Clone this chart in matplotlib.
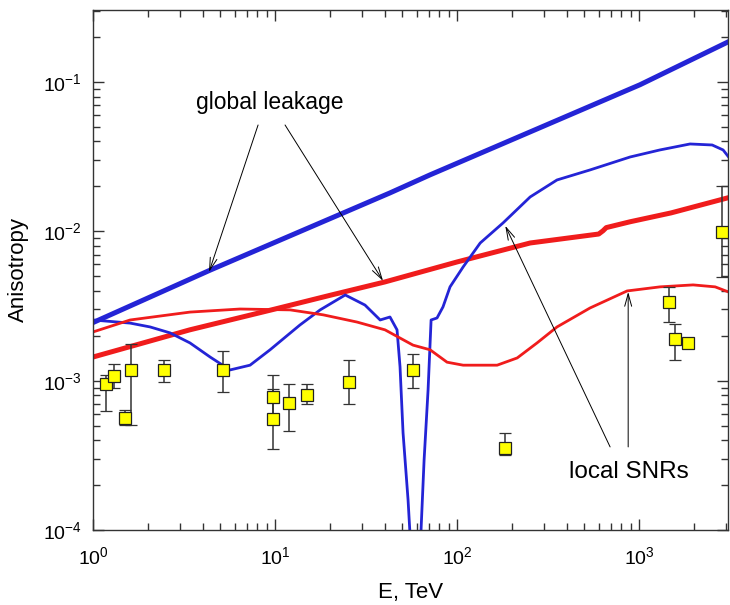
import matplotlib
matplotlib.use("Agg")
import matplotlib.pyplot as plt
from matplotlib.ticker import LogLocator, NullFormatter

plt.rcParams['font.family'] = ['Liberation Sans', 'DejaVu Sans']
plt.rcParams['mathtext.fontset'] = 'custom'
plt.rcParams['mathtext.rm'] = 'Liberation Sans'
plt.rcParams['mathtext.default'] = 'regular'
plt.rcParams['axes.unicode_minus'] = False

# global leakage, blue (thick)
glob_blue_E = [1, 4.4, 42.8, 71, 300, 1012, 3200]
glob_blue_A = [2.45e-3, 5.5e-3, 1.81e-2, 2.39e-2, 5.08e-2, 9.6e-2, 0.19]

# global leakage, red (thick)
glob_red_E = [1, 3.4, 10, 20.4, 40, 100, 252, 600, 634, 660, 893, 1500, 3200]
glob_red_A = [1.44e-3, 2.19e-3, 3.02e-3, 3.75e-3, 4.58e-3, 6.24e-3, 8.36e-3,
              9.6e-3, 1.01e-2, 1.06e-2, 1.16e-2, 1.33e-2, 1.7e-2]

# local SNRs, blue (thin)
snr_blue_E = [1, 1.6, 2.06, 2.65, 3.41, 4.4, 5.66, 7.29, 9.39, 11.4, 13.7, 17.7,
              24.3, 31.2, 37.8, 42.8, 46.8, 48.6, 50.5, 53.8, 55.9, 62.6, 65.9,
              69.3, 72, 77.6, 83.7, 91.5, 108, 134, 179, 252, 354, 538, 893,
              1300, 1905, 2520, 2895, 3200]
snr_blue_A = [2.55e-3, 2.43e-3, 2.29e-3, 2.09e-3, 1.79e-3, 1.44e-3, 1.18e-3,
              1.27e-3, 1.61e-3, 1.96e-3, 2.36e-3, 2.98e-3, 3.75e-3, 3.21e-3,
              2.55e-3, 2.67e-3, 2.19e-3, 1.24e-3, 4.47e-4, 1.59e-4, 7e-5, 7e-5,
              2.94e-4, 8.67e-4, 2.55e-3, 2.63e-3, 3.12e-3, 4.25e-3, 5.78e-3,
              8.36e-3, 1.14e-2, 1.7e-2, 2.21e-2, 2.58e-2, 3.15e-2, 3.51e-2,
              3.85e-2, 3.79e-2, 3.51e-2, 3.0e-2]

# local SNRs, red (thin)
snr_red_E = [1, 1.6, 3.41, 6.42, 12.1, 18.4, 28.2, 40.2, 57.3, 71.1, 88.1, 108,
             166, 214, 275, 354, 538, 859, 1303, 1981, 2617, 3200]
snr_red_A = [2.12e-3, 2.55e-3, 2.88e-3, 3.02e-3, 2.98e-3, 2.76e-3, 2.47e-3,
             2.19e-3, 1.73e-3, 1.61e-3, 1.33e-3, 1.27e-3, 1.27e-3, 1.42e-3,
             1.79e-3, 2.29e-3, 3.07e-3, 3.99e-3, 4.25e-3, 4.38e-3, 4.25e-3, 3.87e-3]

# measurements
data_E = [1.18, 1.30, 1.50, 1.62, 2.46, 5.18, 9.75, 9.75, 11.9, 15.0, 25.5,
          57.3, 184, 1462, 1578, 1858, 2858]
data_A = [9.51e-4, 1.075e-3, 5.62e-4, 1.18e-3, 1.18e-3, 1.18e-3, 7.78e-4,
          5.54e-4, 7.09e-4, 8.02e-4, 9.80e-4, 1.18e-3, 3.54e-4, 3.37e-3,
          1.90e-3, 1.79e-3, 9.91e-3]
data_hi = [1.09e-3, 1.29e-3, 6.36e-4, 1.76e-3, 1.38e-3, 1.58e-3, 1.09e-3,
           8.80e-4, 9.51e-4, 9.51e-4, 1.38e-3, 1.51e-3, 4.46e-4, 4.24e-3,
           2.40e-3, 1.79e-3, 2.01e-2]
data_lo = [6.27e-4, 8.94e-4, 5.05e-4, 5.05e-4, 9.80e-4, 8.41e-4, 5.54e-4,
           3.49e-4, 4.60e-4, 6.98e-4, 6.98e-4, 8.94e-4, 3.18e-4, 2.47e-3,
           1.38e-3, 1.79e-3, 4.95e-3]

blue = '#2424d6'
red = '#f01c1c'

fig = plt.figure(figsize=(7.3, 6.05), dpi=100)
ax = fig.add_axes([0.1274, 0.124, 0.870, 0.8595])

ax.plot(glob_blue_E, glob_blue_A, color=blue, lw=3.6, solid_capstyle='butt')
ax.plot(glob_red_E, glob_red_A, color=red, lw=3.6, solid_capstyle='butt')
ax.plot(snr_blue_E, snr_blue_A, color=blue, lw=2.0)
ax.plot(snr_red_E, snr_red_A, color=red, lw=2.0)

yerr = [[a - l for a, l in zip(data_A, data_lo)],
        [h - a for a, h in zip(data_A, data_hi)]]
ax.errorbar(data_E, data_A, yerr=yerr, fmt='s', color='#333333', ecolor='#333333',
            elinewidth=1.1, capsize=4.3, capthick=1.1, ms=9,
            mfc='#ffff00', mec='#222222', mew=0.9, zorder=5)

arrow = dict(arrowstyle='->,head_length=0.9,head_width=0.25', lw=0.7,
             color='black', shrinkA=0, shrinkB=0)
ax.text(9.39, 0.0725, 'global leakage', fontsize=16.5, ha='center', va='center')
ax.annotate('', xy=(4.34, 5.35e-3), xytext=(8.07, 0.0516), arrowprops=arrow)
ax.annotate('', xy=(39.2, 4.66e-3), xytext=(11.35, 0.0516), arrowprops=arrow)

ax.text(875, 2.45e-4, 'local SNRs', fontsize=17.5, ha='center', va='center')
ax.annotate('', xy=(184, 1.09e-2), xytext=(693, 3.6e-4), arrowprops=arrow)
ax.annotate('', xy=(871, 3.93e-3), xytext=(871, 3.6e-4), arrowprops=arrow)

ax.set_xscale('log')
ax.set_yscale('log')
ax.set_xlim(1, 3083)
ax.set_ylim(1e-4, 0.304)
ax.xaxis.set_major_locator(LogLocator(base=10))
ax.yaxis.set_major_locator(LogLocator(base=10))
ax.xaxis.set_minor_formatter(NullFormatter())
ax.yaxis.set_minor_formatter(NullFormatter())
ax.tick_params(which='both', direction='in', top=True, right=True, colors='#333333',
               labelcolor='black', labelsize=14)
ax.tick_params(which='major', length=8, width=1.0)
ax.tick_params(which='minor', length=5, width=1.0)
ax.tick_params(axis='x', pad=12)
ax.tick_params(axis='y', pad=8)
for s in ax.spines.values():
    s.set_color('#333333')
    s.set_linewidth(1.0)

ax.set_xlabel('E, TeV', fontsize=16, labelpad=10)
ax.set_ylabel('Anisotropy', fontsize=16, labelpad=10)

fig.savefig('out.png', dpi=100)
